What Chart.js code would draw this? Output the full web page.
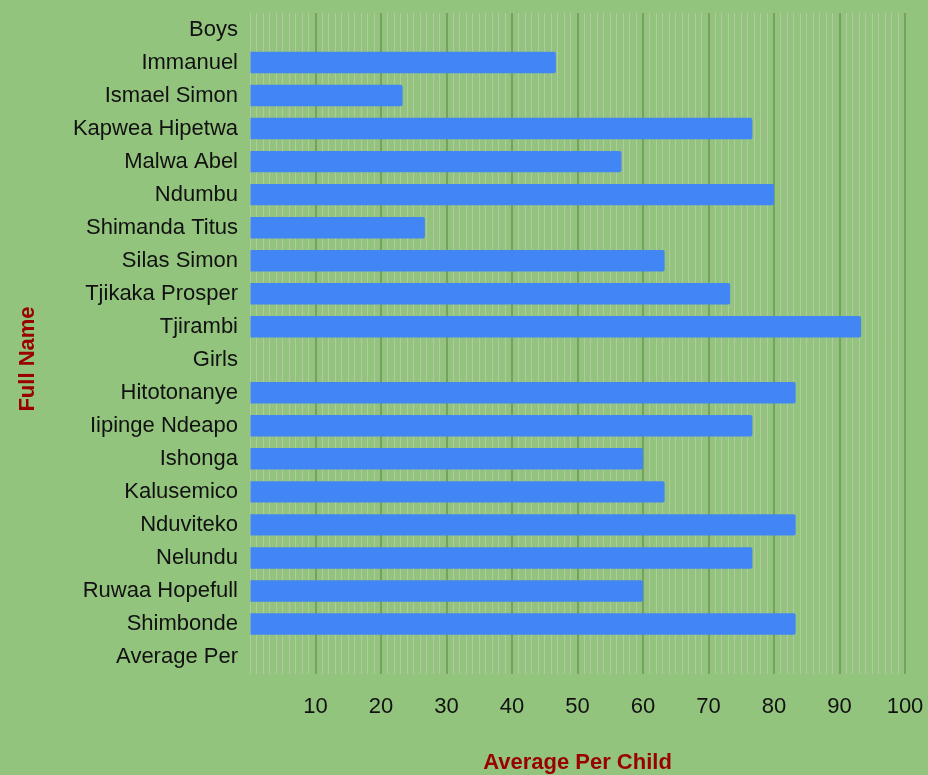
<!DOCTYPE html>
<html>
<head>
<meta charset="utf-8">
<script src="https://cdn.jsdelivr.net/npm/chart.js@4"></script>
<style>
  html, body { margin: 0; padding: 0; background: #93c47d; }
  #wrap { width: 928px; height: 775px; }
</style>
</head>
<body>
<div id="wrap"><canvas id="avgChart" width="928" height="775"></canvas></div>
<script>
// Names as listed on the sheet (group headers included)
const names = [
    'Boys', 'Immanuel', 'Ismael Simon', 'Kapwea Hipetwa', 'Malwa Abel',
    'Ndumbu', 'Shimanda Titus', 'Silas Simon', 'Tjikaka Prosper', 'Tjirambi',
    'Girls', 'Hitotonanye', 'Iipinge Ndeapo', 'Ishonga', 'Kalusemico',
    'Nduviteko', 'Nelundu', 'Ruwaa Hopefull', 'Shimbonde', 'Average Per'
];
// Average per child (header rows have no value)
const averages = [
    null, 46.7, 23.3, 76.7, 56.7,
    80, 26.7, 63.3, 73.3, 93.3,
    null, 83.3, 76.7, 60, 63.3,
    83.3, 76.7, 60, 83.3, null
];
const xMin = 0;
const xMax = 100;
const xMajorStep = 10;
const yTitle = 'Full Name';
const xTitle = 'Average Per Child';

const fontFamily = "'Liberation Sans', Arial, sans-serif";
const labelFont = { family: fontFamily, size: 22 };
const titleFont = { family: fontFamily, size: 22, weight: 'bold' };
const titleColor = '#990000';

const isMajor = v => v % xMajorStep === 0 && v !== 0;

// the sheet centres the vertical title on the whole left strip, not the plot
const yTitlePlugin = {
    id: 'yTitle',
    afterDraw(chart) {
        const c = chart.ctx;
        c.save();
        c.translate(28, 359);
        c.rotate(-Math.PI / 2);
        c.font = `bold ${titleFont.size}px ${fontFamily}`;
        c.fillStyle = titleColor;
        c.textAlign = 'center';
        c.textBaseline = 'middle';
        c.fillText(yTitle, 0, 0);
        c.restore();
    }
};

const ctx = document.getElementById('avgChart').getContext('2d');
const myChart = new Chart(ctx, {
    type: 'bar',
    data: {
        labels: names,
        datasets: [{
            label: xTitle,
            data: averages,
            backgroundColor: '#4285f4',
            borderRadius: 2,
            borderSkipped: 'start',
            categoryPercentage: 1,
            barPercentage: 0.65
        }]
    },
    plugins: [yTitlePlugin],
    options: {
        indexAxis: 'y',
        responsive: false,
        animation: false,
        layout: { padding: { top: 13, right: 23, left: 0, bottom: 0 } },
        plugins: {
            legend: { display: false },
            tooltip: { enabled: false }
        },
        scales: {
            x: {
                type: 'linear',
                min: xMin,
                max: xMax,
                border: { display: false },
                afterFit: s => {
                    s.height = 101.5;
                    s.paddingLeft = 0;
                    s.paddingRight = 0;
                },
                ticks: {
                    stepSize: 1,
                    autoSkip: false,
                    maxRotation: 0,
                    padding: 20,
                    color: '#111',
                    font: labelFont,
                    callback: v => isMajor(v) ? String(v) : ''
                },
                grid: {
                    drawTicks: false,
                    lineWidth: c => (c.tick && isMajor(c.tick.value)) ? 2 : 1,
                    color: c => (c.tick && isMajor(c.tick.value)) ? '#78a161' : '#b6c6a6'
                },
                title: {
                    display: true,
                    text: xTitle,
                    color: titleColor,
                    font: titleFont,
                    padding: { top: 0, bottom: -1 }
                }
            },
            y: {
                type: 'category',
                offset: true,
                border: { display: false },
                afterFit: s => {
                    s.width = 250;
                    s.paddingTop = 0;
                    s.paddingBottom = 0;
                },
                grid: { display: false, drawTicks: false },
                ticks: {
                    padding: 12,
                    color: '#111',
                    font: labelFont,
                    autoSkip: false
                }
            }
        }
    }
});
</script>
</body>
</html>
